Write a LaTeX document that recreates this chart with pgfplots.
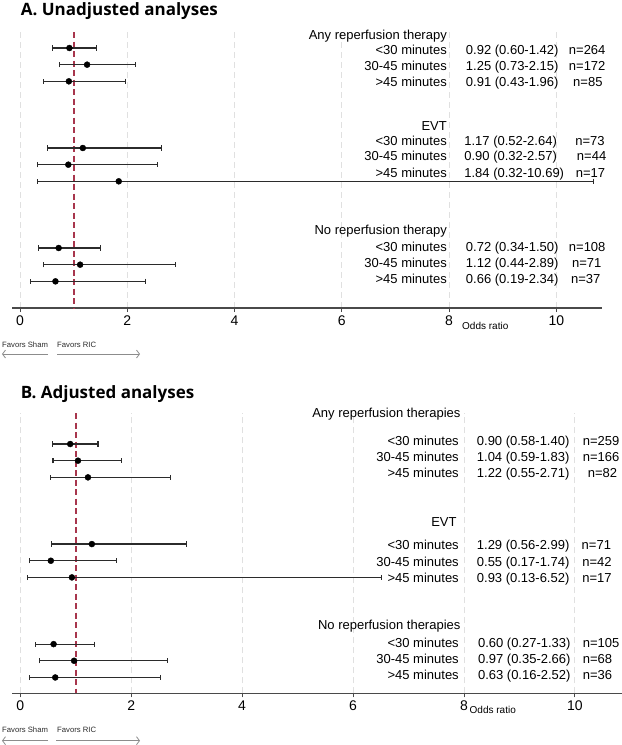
\documentclass[border=0pt]{standalone}
\usepackage{fontspec}
\setmainfont{Liberation Sans}
\newfontfamily\titlefont{Open Sans}
\usepackage{pgfplots}
\usepackage{pgfplotstable}
\pgfplotsset{compat=1.18}
\usetikzlibrary{arrows.meta}

\definecolor{ciline}{HTML}{2B2B2B}
\definecolor{refred}{HTML}{A8364D}
\definecolor{gridgray}{HTML}{E0E0E0}
\definecolor{axisgray}{HTML}{4A4A4A}
\definecolor{notegray}{HTML}{8C8C8C}

% Unadjusted odds ratios: row position, estimate, 95% CI
\pgfplotstableread{
y    or   lo   hi
0    0.92 0.60 1.42
-1   1.25 0.73 2.15
-2   0.91 0.43 1.96
-6   1.17 0.52 2.64
-7   0.90 0.32 2.57
-8   1.84 0.32 10.69
-12  0.72 0.34 1.50
-13  1.12 0.44 2.89
-14  0.66 0.19 2.34
}\unadj

% Adjusted odds ratios
\pgfplotstableread{
y    or   lo   hi
0    0.90 0.58 1.40
-1   1.04 0.59 1.83
-2   1.22 0.55 2.71
-6   1.29 0.56 2.99
-7   0.55 0.17 1.74
-8   0.93 0.13 6.52
-12  0.60 0.27 1.33
-13  0.97 0.35 2.66
-14  0.63 0.16 2.52
}\adj

\pgfplotsset{
  forest/.style={
    scale only axis,
    xmin=-0.15, xmax=10.85,
    axis x line*=bottom,
    axis y line=none,
    xtick={0,2,...,10},
    ytick=\empty,
    tick align=outside,
    major tick length=4bp,
    x axis line style={axisgray, line width=1.1bp},
    xtick style={axisgray, line width=0.9bp},
    xmajorgrids,
    major grid style={gridgray, dash pattern=on 6bp off 4bp, line width=0.9bp},
    ticklabel style={font=\fontsize{14bp}{16bp}\selectfont},
    /pgf/number format/assume math mode=true,
    clip=false,
  },
  estimates/.style={
    only marks, mark=*, mark size=3bp, black,
    error bars/.cd, x dir=both, x explicit,
    error bar style={ciline, line width=1.2bp},
    error mark=|,
    error mark options={ciline, line width=1.1bp, mark size=2.6bp},
  },
  refline/.style={draw=refred, line width=1.7bp, dash pattern=on 6bp off 3.5bp},
}

\tikzset{
  lab/.style={font=\fontsize{13bp}{15bp}\selectfont, inner sep=0pt},
  small/.style={font=\fontsize{10bp}{12bp}\selectfont, inner sep=0pt},
  note/.style={font=\fontsize{7.7bp}{9bp}\selectfont, inner sep=0pt, text=ciline},
  favarrow/.style={notegray, line width=0.8bp, -{Straight Barb[length=3bp,width=8bp]}},
}

\begin{document}
\begin{tikzpicture}
\path[use as bounding box] (0,0) rectangle (622bp,-745bp);

% ---------------- Panel A ----------------
\node[anchor=base west, inner sep=0pt, font=\titlefont\bfseries\fontsize{17bp}{20bp}\selectfont]
  at (20.7bp,-15bp) {A. Unadjusted analyses};

\begin{axis}[forest, at={(12bp,-308bp)}, anchor=south west,
  width=590bp, height=276bp, ymin=-15.6, ymax=0.96]
  \addplot[refline] coordinates {(1,0.96) (1,-15.6)};
  \addplot[estimates] table[x=or, y=y,
    x error plus expr=\thisrow{hi}-\thisrow{or},
    x error minus expr=\thisrow{or}-\thisrow{lo}] {\unadj};

  % subgroup labels
  \node[lab, anchor=mid east] at (axis cs:7.96,0.66)   {Any reperfusion therapy};
  \node[lab, anchor=mid east] at (axis cs:7.96,-0.26)  {<30 minutes};
  \node[lab, anchor=mid east] at (axis cs:7.96,-1.20)  {30-45 minutes};
  \node[lab, anchor=mid east] at (axis cs:7.96,-2.16)  {>45 minutes};
  \node[lab, anchor=mid east] at (axis cs:7.96,-4.80)  {EVT};
  \node[lab, anchor=mid east] at (axis cs:7.96,-5.72)  {<30 minutes};
  \node[lab, anchor=mid east] at (axis cs:7.96,-6.62)  {30-45 minutes};
  \node[lab, anchor=mid east] at (axis cs:7.96,-7.62)  {>45 minutes};
  \node[lab, anchor=mid east] at (axis cs:7.96,-11.04) {No reperfusion therapy};
  \node[lab, anchor=mid east] at (axis cs:7.96,-12.06) {<30 minutes};
  \node[lab, anchor=mid east] at (axis cs:7.96,-13.02) {30-45 minutes};
  \node[lab, anchor=mid east] at (axis cs:7.96,-14.00) {>45 minutes};

  % odds ratio (95% CI)
  \node[lab, anchor=mid west] at (axis cs:8.31,-0.26)  {0.92 (0.60-1.42)};
  \node[lab, anchor=mid west] at (axis cs:8.31,-1.20)  {1.25 (0.73-2.15)};
  \node[lab, anchor=mid west] at (axis cs:8.31,-2.16)  {0.91 (0.43-1.96)};
  \node[lab, anchor=mid west] at (axis cs:8.28,-5.72)  {1.17 (0.52-2.64)};
  \node[lab, anchor=mid west] at (axis cs:8.28,-6.62)  {0.90 (0.32-2.57)};
  \node[lab, anchor=mid west] at (axis cs:8.28,-7.62)  {1.84 (0.32-10.69)};
  \node[lab, anchor=mid west] at (axis cs:8.31,-12.06) {0.72 (0.34-1.50)};
  \node[lab, anchor=mid west] at (axis cs:8.31,-13.02) {1.12 (0.44-2.89)};
  \node[lab, anchor=mid west] at (axis cs:8.31,-14.00) {0.66 (0.19-2.34)};

  % sample sizes
  \node[lab, anchor=mid west] at (axis cs:10.23,-0.26)  {n=264};
  \node[lab, anchor=mid west] at (axis cs:10.23,-1.20)  {n=172};
  \node[lab, anchor=mid west] at (axis cs:10.31,-2.16)  {n=85};
  \node[lab, anchor=mid west] at (axis cs:10.35,-5.72)  {n=73};
  \node[lab, anchor=mid west] at (axis cs:10.38,-6.62)  {n=44};
  \node[lab, anchor=mid west] at (axis cs:10.36,-7.62)  {n=17};
  \node[lab, anchor=mid west] at (axis cs:10.23,-12.06) {n=108};
  \node[lab, anchor=mid west] at (axis cs:10.29,-13.02) {n=71};
  \node[lab, anchor=mid west] at (axis cs:10.27,-14.00) {n=37};

  \node[small, anchor=mid west, yshift=-19bp] at (axis cs:8.24,-15.6) {Odds ratio};
\end{axis}

\node[note, anchor=base west] at (2bp,-347.8bp) {Favors Sham};
\node[note, anchor=base west] at (57bp,-347.8bp) {Favors RIC};
\draw[favarrow] (48bp,-354bp) -- (2bp,-354bp);
\draw[favarrow] (57bp,-354bp) -- (140bp,-354bp);

% ---------------- Panel B ----------------
\node[anchor=base west, inner sep=0pt, font=\titlefont\bfseries\fontsize{17bp}{20bp}\selectfont]
  at (20.7bp,-398bp) {B. Adjusted analyses};

\begin{axis}[forest, at={(12bp,-693.3bp)}, anchor=south west,
  width=610bp, height=280.3bp, ymin=-14.95, ymax=1.86]
  \addplot[refline] coordinates {(1,1.86) (1,-14.95)};
  \addplot[estimates] table[x=or, y=y,
    x error plus expr=\thisrow{hi}-\thisrow{or},
    x error minus expr=\thisrow{or}-\thisrow{lo}] {\adj};

  \node[lab, anchor=mid east] at (axis cs:7.94,1.74)   {Any reperfusion therapies};
  \node[lab, anchor=mid east] at (axis cs:7.91,0.04)   {<30 minutes};
  \node[lab, anchor=mid east] at (axis cs:7.91,-0.92)  {30-45 minutes};
  \node[lab, anchor=mid east] at (axis cs:7.91,-1.86)  {>45 minutes};
  \node[lab, anchor=mid east] at (axis cs:7.87,-4.76)  {EVT};
  \node[lab, anchor=mid east] at (axis cs:7.91,-6.16)  {<30 minutes};
  \node[lab, anchor=mid east] at (axis cs:7.91,-7.16)  {30-45 minutes};
  \node[lab, anchor=mid east] at (axis cs:7.91,-8.12)  {>45 minutes};
  \node[lab, anchor=mid east] at (axis cs:7.94,-10.96) {No reperfusion therapies};
  \node[lab, anchor=mid east] at (axis cs:7.91,-12.02) {<30 minutes};
  \node[lab, anchor=mid east] at (axis cs:7.91,-12.98) {30-45 minutes};
  \node[lab, anchor=mid east] at (axis cs:7.91,-13.96) {>45 minutes};

  \node[lab, anchor=mid west] at (axis cs:8.23,0.04)   {0.90 (0.58-1.40)};
  \node[lab, anchor=mid west] at (axis cs:8.23,-0.92)  {1.04 (0.59-1.83)};
  \node[lab, anchor=mid west] at (axis cs:8.23,-1.86)  {1.22 (0.55-2.71)};
  \node[lab, anchor=mid west] at (axis cs:8.23,-6.16)  {1.29 (0.56-2.99)};
  \node[lab, anchor=mid west] at (axis cs:8.23,-7.16)  {0.55 (0.17-1.74)};
  \node[lab, anchor=mid west] at (axis cs:8.23,-8.12)  {0.93 (0.13-6.52)};
  \node[lab, anchor=mid west] at (axis cs:8.25,-12.02) {0.60 (0.27-1.33)};
  \node[lab, anchor=mid west] at (axis cs:8.25,-12.98) {0.97 (0.35-2.66)};
  \node[lab, anchor=mid west] at (axis cs:8.25,-13.96) {0.63 (0.16-2.52)};

  \node[lab, anchor=mid west] at (axis cs:10.14,0.04)   {n=259};
  \node[lab, anchor=mid west] at (axis cs:10.14,-0.92)  {n=166};
  \node[lab, anchor=mid west] at (axis cs:10.23,-1.86)  {n=82};
  \node[lab, anchor=mid west] at (axis cs:10.12,-6.16)  {n=71};
  \node[lab, anchor=mid west] at (axis cs:10.13,-7.16)  {n=42};
  \node[lab, anchor=mid west] at (axis cs:10.13,-8.12)  {n=17};
  \node[lab, anchor=mid west] at (axis cs:10.14,-12.02) {n=105};
  \node[lab, anchor=mid west] at (axis cs:10.14,-12.98) {n=68};
  \node[lab, anchor=mid west] at (axis cs:10.14,-13.96) {n=36};

  \node[small, anchor=mid west, yshift=-17.4bp] at (axis cs:8.10,-14.95) {Odds ratio};
\end{axis}

\node[note, anchor=base west] at (2bp,-732.8bp) {Favors Sham};
\node[note, anchor=base west] at (57bp,-732.8bp) {Favors RIC};
\draw[favarrow] (48bp,-740.7bp) -- (2bp,-740.7bp);
\draw[favarrow] (56bp,-740.7bp) -- (140bp,-740.7bp);
\end{tikzpicture}
\end{document}
